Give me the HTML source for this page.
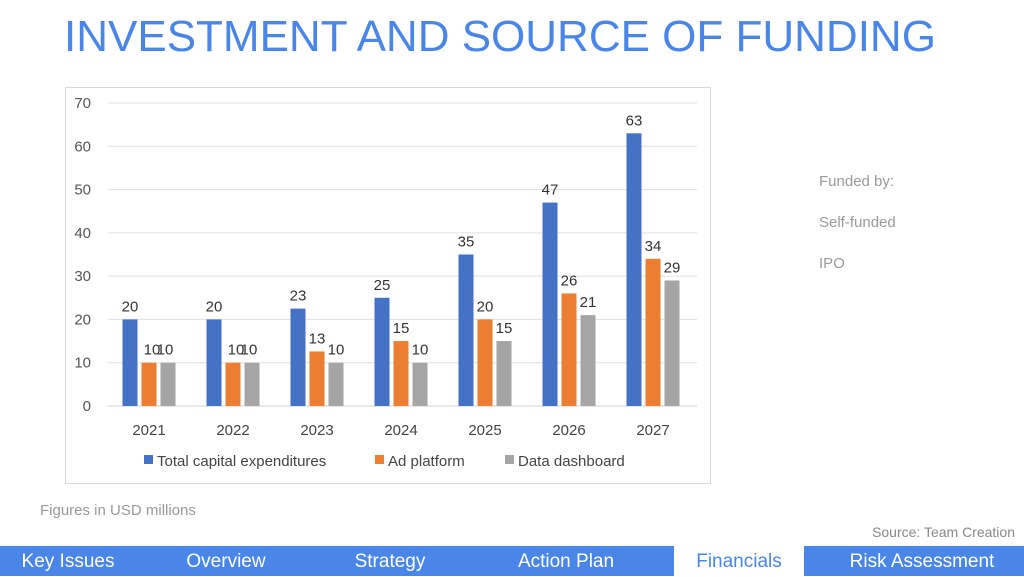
<!DOCTYPE html>
<html><head><meta charset="utf-8"><style>
body{margin:0;width:1024px;height:576px;overflow:hidden;background:#fff;font-family:"Liberation Sans",sans-serif;position:relative}
.t{position:absolute;white-space:nowrap}
#title{left:64px;top:12px;font-size:44px;color:#4a86e8;letter-spacing:0px}
.side{color:#999;font-size:15px;left:819px}
#nav{position:absolute;left:0;top:546px;width:1024px;height:30px;background:#4a86e8}
.nv{position:absolute;top:0;height:30px;line-height:31px;color:#fff;font-size:19px;text-align:center}
</style></head><body>
<div class="t" id="title">INVESTMENT AND SOURCE OF FUNDING</div>
<svg id="chart" style="position:absolute;left:0;top:0" width="1024" height="576"></svg>
<div class="t side" style="top:173px">Funded by:</div>
<div class="t side" style="top:214px">Self-funded</div>
<div class="t side" style="top:255px">IPO</div>
<div class="t" style="left:40px;top:502px;font-size:15px;color:#999">Figures in USD millions</div>
<div class="t" style="right:9px;top:524px;font-size:14px;color:#888">Source: Team Creation</div>
<div id="nav">
<div class="nv" style="left:0;width:136px">Key Issues</div>
<div class="nv" style="left:156px;width:140px">Overview</div>
<div class="nv" style="left:320px;width:140px">Strategy</div>
<div class="nv" style="left:496px;width:140px">Action Plan</div>
<div class="nv" style="left:674px;width:130px;background:#fff;color:#4a86e8">Financials</div>
<div class="nv" style="left:820px;width:204px">Risk Assessment</div>
</div>
<script>
const categories=["2021","2022","2023","2024","2025","2026","2027"];
const capex=[20,20,22.5,25,35,47,63];
const adPlatform=[10,10,12.6,15,20,26,34];
const dashboard=[10,10,10,10,15,21,29];
const capexLabels=["20","20","23","25","35","47","63"];
const adLabels=["10","10","13","15","20","26","34"];
const dashLabels=["10","10","10","10","15","21","29"];
const yTicks=[0,10,20,30,40,50,60,70];
const NS="http://www.w3.org/2000/svg";
const svg=document.getElementById('chart');
function mk(t,a,p){const e=document.createElementNS(NS,t);for(const k in a)e.setAttribute(k,a[k]);(p||svg).appendChild(e);return e;}
const y0=406,y70=103;
const Y=v=>y0-(y0-y70)*v/70;
const X=i=>149+84*i;
const box=mk('rect',{x:65.5,y:87.5,width:645,height:396,fill:'#fff',stroke:'#d9d9d9'});


yTicks.forEach(v=>{
  const l=mk('line',{x1:108,x2:697,y1:Y(v),y2:Y(v),stroke:v?'#e0e0e0':'#d0d0d0'});
  
  
  const t=mk('text',{x:91,y:Y(v)+5,'text-anchor':'end','font-size':15,fill:'#555'});
  t.textContent=v;
  
  
});
const series=[[capex,capexLabels,'#4472c4',-19],[adPlatform,adLabels,'#ed7d31',0],[dashboard,dashLabels,'#a5a5a5',19]];
const names=['capex','ad-platform','data-dashboard'];
categories.forEach((c,i)=>{
  const t=mk('text',{x:X(i),y:435,'text-anchor':'middle','font-size':15,fill:'#444'});
  t.textContent=c;
  
  
  series.forEach((s,k)=>{
    const v=s[0][i],cx=X(i)+s[3];
    const r=mk('rect',{x:cx-7.5,y:Y(v),width:15,height:Y(0)-Y(v),fill:s[2]});
    
    
    const lb=mk('text',{x:cx+(k==2&&i<2?-3:0)+(k==1&&i<2?3:0),y:Y(v)-8,'text-anchor':'middle','font-size':15,fill:'#333'});
    lb.textContent=s[1][i];
    
    
  });
});
const legend=[['Total capital expenditures','#4472c4',144],['Ad platform','#ed7d31',375],['Data dashboard','#a5a5a5',505]];
legend.forEach(l=>{
  const g=mk('g',{});
  
  
  mk('rect',{x:l[2],y:455,width:9,height:9,fill:l[1]},g);
  const t=mk('text',{x:l[2]+13,y:466,'font-size':15,fill:'#444'},g);
  t.textContent=l[0];
});
</script>
</body></html>
